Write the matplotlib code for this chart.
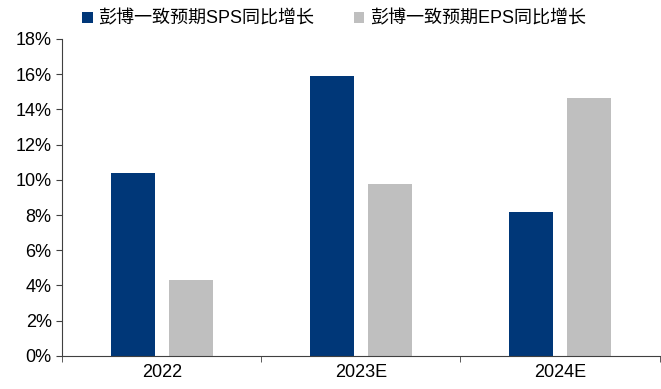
import numpy as np
import matplotlib.pyplot as plt
from matplotlib.ticker import FuncFormatter, FixedLocator

plt.rcParams['font.family'] = ['Liberation Sans', 'Noto Sans CJK SC', 'DejaVu Sans']

# 数据
categories = ['2022', '2023E', '2024E']
sps_growth = [10.4, 15.9, 8.2]
eps_growth = [4.3, 9.75, 14.65]
series_names = ['彭博一致预期SPS同比增长', '彭博一致预期EPS同比增长']

fig = plt.figure(figsize=(6.61, 3.89), dpi=100)
ax = fig.add_axes([0.094, 0.085, 0.904, 0.815])

x = np.arange(len(categories))
w = 0.22
ax.bar(x - 0.145, sps_growth, w, color='#003778', label=series_names[0])
ax.bar(x + 0.145, eps_growth, w, color='#BFBFBF', label=series_names[1])

ax.set_xlim(-0.5, 2.5)
ax.set_ylim(0, 18)
ax.set_yticks(np.arange(0, 19, 2))
ax.yaxis.set_major_formatter(FuncFormatter(lambda v, p: f'{v:.0f}%'))

ax.set_xticks(x)
ax.set_xticklabels(categories)
ax.xaxis.set_minor_locator(FixedLocator([-0.5, 0.5, 1.5, 2.5]))
ax.tick_params(axis='x', which='major', length=0, labelsize=13, pad=6)
ax.tick_params(axis='x', which='minor', length=4, direction='out', color='#404040')
ax.tick_params(axis='y', length=4, direction='out', labelsize=13, color='#404040')

for s in ['top', 'right']:
    ax.spines[s].set_visible(False)
ax.spines['left'].set_color('#404040')
ax.spines['bottom'].set_color('#404040')

fig.legend(loc='upper center', bbox_to_anchor=(0.505, 1.015), ncol=2, frameon=False,
           fontsize=13, handlelength=0.6, handleheight=0.6, handletextpad=0.3,
           columnspacing=2.2)

fig.savefig('out.png', dpi=100)
